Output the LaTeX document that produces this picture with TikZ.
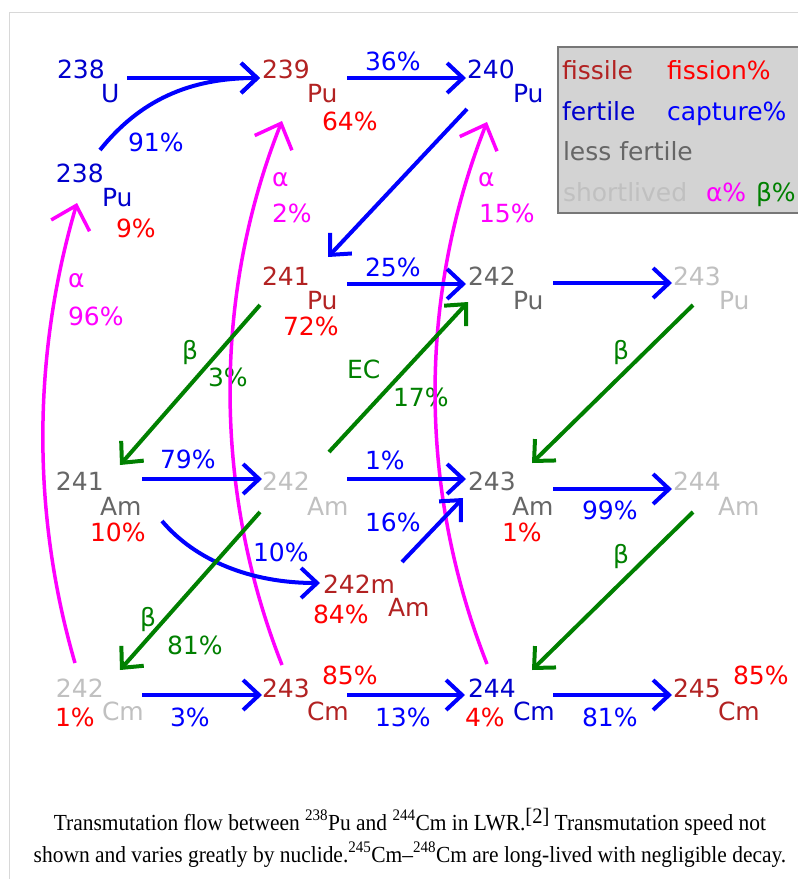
\documentclass[tikz,border=0pt]{standalone}
\usepackage{fontspec}
\usepackage{graphicx}
\setmainfont{Liberation Serif}
\newfontfamily\dejavu{DejaVu Sans}
\usetikzlibrary{arrows.meta}
\definecolor{fissile}{HTML}{B22222}
\definecolor{fissionc}{HTML}{FF0000}
\definecolor{fertile}{HTML}{0000CD}
\definecolor{capturec}{HTML}{0000FF}
\definecolor{lessf}{HTML}{666666}
\definecolor{shortl}{HTML}{C0C0C0}
\definecolor{alphac}{HTML}{FF00FF}
\definecolor{betac}{HTML}{008000}
\definecolor{legbg}{HTML}{D3D3D3}
\definecolor{legbd}{HTML}{777777}
\definecolor{framec}{HTML}{D8D8D8}
\newcommand\nuclide[8]{%
  \node[lbl,text=#2] (#1n) at (#3,#4) {#5};
  \node[lbl,text=#2] (#1s) at (#6,#7) {#8};}
\begin{document}
\begin{tikzpicture}[x=1pt,y=-1pt,
  lbl/.style={anchor=base west,inner sep=0pt,outer sep=0pt,font=\dejavu\fontsize{25}{29}\selectfont},
  pfis/.style={lbl,text=fissionc},
  pcap/.style={lbl,text=capturec},
  palp/.style={lbl,text=alphac},
  pbet/.style={lbl,text=betac},
  caparrow/.style={draw=capturec,line width=4pt,-{Straight Barb[length=16pt,width=30pt,sharp]}},
  betaarrow/.style={draw=betac,line width=4pt,-{Straight Barb[length=16pt,width=30pt,sharp]}},
  alphaarrow/.style={draw=alphac,line width=3.5pt,-{Straight Barb[length=21pt,width=40pt,sharp]}},
  captext/.style={anchor=base,inner sep=0pt,font=\fontsize{23}{30}\selectfont}
]
\useasboundingbox (0,0) rectangle (798,879);
\fill[white] (0,0) rectangle (798,879);
% frame
\draw[framec,line width=1pt] (798,12) -- (9,12) -- (9,879);
% legend
\fill[legbg] (558,47) rectangle (798,213);
\draw[legbd,line width=2pt] (798,47) -- (558,47) -- (558,213) -- (798,213);
\node[lbl,text=fissile] (lg1) at (562,79) {fissile};
\node[lbl,text=fissionc] (lg2) at (667,79) {fission\%};
\node[lbl,text=fertile] (lg3) at (562,120) {fertile};
\node[lbl,text=capturec] (lg4) at (667,120) {capture\%};
\node[lbl,text=lessf] (lg5) at (563,160) {less fertile};
\node[lbl,text=shortl] (lg6) at (563,201) {shortlived};
\node[lbl,text=alphac] (lg7) at (706,201) {α\%};
\node[lbl,text=betac] (lg8) at (756,201) {β\%};
% nuclides
\nuclide{uA}{fertile}{57}{78}{238}{101}{102}{U}
\nuclide{puA}{fertile}{56}{182}{238}{102}{206}{Pu}
\nuclide{puB}{fissile}{262}{78}{239}{307}{102}{Pu}
\nuclide{puC}{fertile}{467}{78}{240}{513}{102}{Pu}
\nuclide{puD}{fissile}{262}{285}{241}{307}{309}{Pu}
\nuclide{puE}{lessf}{468}{285}{242}{513}{309}{Pu}
\nuclide{puF}{shortl}{673}{285}{243}{719}{309}{Pu}
\nuclide{amA}{lessf}{56}{490}{241}{100}{515}{Am}
\nuclide{amB}{shortl}{262}{490}{242}{307}{515}{Am}
\nuclide{amC}{lessf}{468}{490}{243}{512}{515}{Am}
\nuclide{amD}{shortl}{673}{490}{244}{718}{515}{Am}
\nuclide{amM}{fissile}{323}{593}{242m}{388}{616}{Am}
\nuclide{cmA}{shortl}{56}{697}{242}{102}{720}{Cm}
\nuclide{cmB}{fissile}{262}{697}{243}{307}{720}{Cm}
\nuclide{cmC}{fertile}{468}{697}{244}{513}{720}{Cm}
\nuclide{cmD}{fissile}{673}{697}{245}{718}{720}{Cm}
% percentages
\node[pcap] (t91) at (128,151) {91\%};
\node[pfis] (t9) at (116,237) {9\%};
\node[pcap] (t36) at (365,70) {36\%};
\node[pfis] (t64) at (322,130) {64\%};
\node[palp] (ta2) at (272,186) {α};
\node[palp] (t2) at (272,222) {2\%};
\node[palp] (ta96) at (68,287) {α};
\node[palp] (t96) at (68,325) {96\%};
\node[palp] (ta15) at (478,186) {α};
\node[palp] (t15) at (479,222) {15\%};
\node[pcap] (t25) at (365,276) {25\%};
\node[pfis] (t72) at (283,335) {72\%};
\node[pbet] (tb3) at (182,359) {β};
\node[pbet] (t3) at (208,386) {3\%};
\node[pbet] (tec) at (347,378) {EC};
\node[pbet] (t17) at (393,406) {17\%};
\node[pbet] (tbF) at (613,359) {β};
\node[pcap] (t79) at (160,468) {79\%};
\node[pcap] (t1a) at (365,469) {1\%};
\node[pfis] (t10f) at (90,541) {10\%};
\node[pfis] (t1f) at (502,541) {1\%};
\node[pcap] (t99) at (582,519) {99\%};
\node[pcap] (t16) at (365,531) {16\%};
\node[pcap] (t10) at (253,561) {10\%};
\node[pbet] (tbD) at (613,563) {β};
\node[pfis] (t84) at (313,623) {84\%};
\node[pbet] (tbB) at (140,626) {β};
\node[pbet] (t81g) at (167,654) {81\%};
\node[pfis] (t1c) at (55,726) {1\%};
\node[pcap] (t3c) at (170,726) {3\%};
\node[pfis] (t85a) at (322,684) {85\%};
\node[pcap] (t13) at (375,726) {13\%};
\node[pfis] (t4) at (465,726) {4\%};
\node[pcap] (t81) at (582,726) {81\%};
\node[pfis] (t85b) at (733,684) {85\%};
% connector end points
\coordinate (e1s) at (127,78);   \coordinate (e1e) at (260,78);
\coordinate (e2s) at (100,150);
\coordinate (e3s) at (347,78);   \coordinate (e3e) at (466,78);
\coordinate (e4s) at (467,109);  \coordinate (e4e) at (328,257);
\coordinate (e5s) at (347,284);  \coordinate (e5e) at (466,284);
\coordinate (e6s) at (553,283);  \coordinate (e6e) at (672,283);
\coordinate (e7s) at (260,305);  \coordinate (e7e) at (120,465);
\coordinate (e8s) at (329,452);  \coordinate (e8e) at (468,302);
\coordinate (e9s) at (693,305);  \coordinate (e9e) at (532,463);
\coordinate (e10s) at (142,479); \coordinate (e10e) at (262,479);
\coordinate (e11s) at (347,479); \coordinate (e11e) at (466,479);
\coordinate (e12s) at (553,489); \coordinate (e12e) at (672,489);
\coordinate (e13s) at (693,512); \coordinate (e13e) at (532,670);
\coordinate (e14s) at (402,562); \coordinate (e14e) at (463,498);
\coordinate (e15s) at (260,512); \coordinate (e15e) at (120,670);
\coordinate (e16s) at (142,695); \coordinate (e16e) at (262,695);
\coordinate (e17s) at (347,695); \coordinate (e17e) at (465,695);
\coordinate (e18s) at (553,695); \coordinate (e18e) at (672,695);
\coordinate (e19s) at (162,521); \coordinate (e19e) at (320,583);
\coordinate (a1s) at (75,663);  \coordinate (a1e) at (77,203);
\coordinate (a2s) at (282,665); \coordinate (a2e) at (282,121);
\coordinate (a3s) at (487,664); \coordinate (a3e) at (487,122);
% alpha decays
\draw[alphaarrow] (a1s) .. controls (31,512) and (33,353) .. (a1e);
\draw[alphaarrow] (a2s) .. controls (213,490) and (213,295) .. (a2e);
\draw[alphaarrow] (a3s) .. controls (418,489) and (418,297) .. (a3e);
% captures
\draw[caparrow] (e1s) -- (e1e);
\draw[caparrow] (e2s) .. controls (140,100) and (190,78) .. (e1e);
\draw[caparrow] (e3s) -- (e3e);
\draw[caparrow] (e4s) -- (e4e);
\draw[caparrow] (e5s) -- (e5e);
\draw[caparrow] (e6s) -- (e6e);
\draw[caparrow] (e10s) -- (e10e);
\draw[caparrow] (e11s) -- (e11e);
\draw[caparrow] (e12s) -- (e12e);
\draw[caparrow] (e14s) -- (e14e);
\draw[caparrow] (e16s) -- (e16e);
\draw[caparrow] (e17s) -- (e17e);
\draw[caparrow] (e18s) -- (e18e);
\draw[caparrow] (e19s) .. controls (195,560) and (250,583) .. (e19e);
% beta / EC
\draw[betaarrow] (e7s) -- (e7e);
\draw[betaarrow] (e8s) -- (e8e);
\draw[betaarrow] (e9s) -- (e9e);
\draw[betaarrow] (e13s) -- (e13e);
\draw[betaarrow] (e15s) -- (e15e);
% caption
\node[captext] (cap1) at (410,830) {\scalebox{0.933}[1]{Transmutation flow between \textsuperscript{238}Pu and \textsuperscript{244}Cm in LWR.\raisebox{7pt}{\fontsize{22}{22}\selectfont[2]} Transmutation speed not}};
\node[captext] (cap2) at (410,862) {\scalebox{0.933}[1]{shown and varies greatly by nuclide.\textsuperscript{245}Cm–\textsuperscript{248}Cm are long-lived with negligible decay.}};
\end{tikzpicture}
\end{document}
